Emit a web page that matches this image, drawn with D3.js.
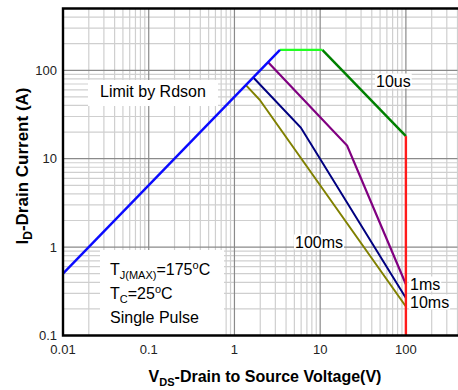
<!DOCTYPE html>
<html>
<head>
<meta charset="utf-8">
<script src="https://cdn.jsdelivr.net/npm/d3@7"></script>
<style>
  html, body { margin: 0; padding: 0; background: #fff; }
  svg { display: block; font-family: Arial, "Liberation Sans", sans-serif; }
</style>
</head>
<body>
<svg id="chart" width="458" height="390"></svg>
<script>
// Safe operating area, log-log
const xTicks = [0.01, 0.1, 1, 10, 100];
const xTickLabels = ["0.01", "0.1", "1", "10", "100"];
const yTicks = [0.1, 1, 10, 100];
const yTickLabels = ["0.1", "1", "10", "100"];

// On-resistance limit (V, A)
const rdsLimit = [[0.01, 0.5], [3.4, 170]];
// 10us pulse: current limit, power limit, voltage limit
const us10Flat = [[3.4, 170], [10.6, 170]];
const us10Slope = [[10.6, 170], [100, 18]];
const vdsLimit = [[100, 18], [100, 0.1]];
// Longer pulses
const ms1 = [[2.47, 123], [20.6, 14.1], [100, 0.38]];
const ms10 = [[1.66, 83], [5.94, 22.5], [100, 0.265]];
const ms100 = [[1.36, 68], [1.97, 46.4], [100, 0.213]];

const svg = d3.select("#chart");
const plotL = 63, plotR = 457.5, plotT = 8.5, plotB = 335.5;

const x = d3.scaleLog().domain([0.01, 400]).range([plotL, plotR]);
const y = d3.scaleLog().domain([0.1, 500]).range([plotB, plotT]);

// grid
const minorX = [];
[0.01, 0.1, 1, 10, 100].forEach(d => {
  for (let k = 2; k <= 9; k++) { const v = d * k; if (v <= 400) minorX.push(v); }
});
const minorY = [];
[0.1, 1, 10, 100].forEach(d => {
  for (let k = 2; k <= 9; k++) { const v = d * k; if (v < 500) minorY.push(v); }
});

const grid = svg.append("g");
grid.selectAll(".mx").data(minorX).join("line")
  .attr("x1", d => x(d)).attr("x2", d => x(d))
  .attr("y1", plotT).attr("y2", plotB)
  .attr("stroke", "#cfcfcf").attr("stroke-width", 1.2);
grid.selectAll(".my").data(minorY).join("line")
  .attr("x1", plotL).attr("x2", plotR)
  .attr("y1", d => y(d)).attr("y2", d => y(d))
  .attr("stroke", "#cfcfcf").attr("stroke-width", 1.2);
grid.selectAll(".Mx").data(xTicks).join("line")
  .attr("x1", d => x(d)).attr("x2", d => x(d))
  .attr("y1", plotT).attr("y2", plotB)
  .attr("stroke", "#8a8a8a").attr("stroke-width", 1.2);
grid.selectAll(".My").data(yTicks).join("line")
  .attr("x1", plotL).attr("x2", plotR)
  .attr("y1", d => y(d)).attr("y2", d => y(d))
  .attr("stroke", "#8a8a8a").attr("stroke-width", 1.2);

// note boxes (drawn over grid, under curves)
const boxes = svg.append("g");
const notes = svg.append("g");

const line = d3.line().x(d => x(d[0])).y(d => y(d[1]));
const curves = [
  { data: ms100, color: "#808000", w: 2 },
  { data: ms10, color: "#000080", w: 2 },
  { data: ms1, color: "#800080", w: 2.2 },
  { data: us10Slope, color: "#008000", w: 2.4 },
  { data: us10Flat, color: "#22ff22", w: 2.4 },
  { data: rdsLimit, color: "#0a0aff", w: 2.4 },
  { data: vdsLimit, color: "#ff1a1a", w: 2.4 }
];

// Limit by Rdson label box
boxes.append("rect").attr("x", 88).attr("y", 80).attr("width", 130).attr("height", 26).attr("fill", "#fff");
notes.append("text").attr("x", 100).attr("y", 96.5).attr("font-size", 16).text("Limit by Rdson");

// Conditions box
boxes.append("rect").attr("x", 100).attr("y", 250).attr("width", 124).attr("height", plotB - 250).attr("fill", "#fff");
const t1 = notes.append("text").attr("x", 110).attr("y", 274.5).attr("font-size", 16);
t1.append("tspan").text("T");
t1.append("tspan").attr("font-size", 11).attr("dy", 4).text("J(MAX)");
t1.append("tspan").attr("dy", -4).text("=175");
t1.append("tspan").attr("font-size", 11).attr("dy", -6).text("o");
t1.append("tspan").attr("dy", 6).text("C");
const t2 = notes.append("text").attr("x", 110).attr("y", 298.5).attr("font-size", 16);
t2.append("tspan").text("T");
t2.append("tspan").attr("font-size", 11).attr("dy", 4).text("C");
t2.append("tspan").attr("dy", -4).text("=25");
t2.append("tspan").attr("font-size", 11).attr("dy", -6).text("o");
t2.append("tspan").attr("dy", 6).text("C");
notes.append("text").attr("x", 110).attr("y", 322.5).attr("font-size", 16).text("Single Pulse");

// curves
svg.append("g").selectAll("path").data(curves).join("path")
  .attr("d", d => line(d.data))
  .attr("fill", "none")
  .attr("stroke", d => d.color)
  .attr("stroke-width", d => d.w)
  .attr("stroke-linejoin", "miter");

// pulse width labels
const pulseLabels = [
  { text: "10us", x: 376, y: 86.5 },
  { text: "100ms", x: 295, y: 247.5 },
  { text: "1ms", x: 410, y: 289.5 },
  { text: "10ms", x: 410, y: 307.5 }
];
const pl = svg.append("g");
pulseLabels.forEach(p => {
  const t = pl.append("text").attr("x", p.x).attr("y", p.y).attr("font-size", 16).text(p.text);
  const b = t.node().getBBox();
  pl.insert("rect", "text").attr("x", b.x - 1).attr("y", b.y + 1).attr("width", b.width + 2).attr("height", b.height - 2).attr("fill", "#fff");
});

// frame (left, top, bottom)
svg.append("path")
  .attr("d", `M${plotR + 2},${plotT} H${plotL} V${plotB} H${plotR + 2}`)
  .attr("fill", "none").attr("stroke", "#000").attr("stroke-width", 2.4);

// tick labels
svg.append("g").selectAll("text").data(yTicks).join("text")
  .attr("x", 57).attr("y", d => y(d) + 4.5)
  .attr("text-anchor", "end").attr("font-size", 13).attr("fill", "#222")
  .text((d, i) => yTickLabels[i]);
svg.append("g").selectAll("text").data(xTicks).join("text")
  .attr("x", d => x(d)).attr("y", 353.5)
  .attr("text-anchor", "middle").attr("font-size", 13).attr("fill", "#222")
  .text((d, i) => xTickLabels[i]);

// axis titles
const xt = svg.append("text").attr("x", 265).attr("y", 381.5).attr("text-anchor", "middle")
  .attr("font-size", 16).attr("font-weight", "bold");
xt.append("tspan").text("V");
xt.append("tspan").attr("font-size", 11).attr("dy", 4).text("DS");
xt.append("tspan").attr("dy", -4).text("-Drain to Source Voltage(V)");

const yt = svg.append("text").attr("transform", "translate(27.5,166) rotate(-90)").attr("text-anchor", "middle")
  .attr("font-size", 17).attr("font-weight", "bold");
yt.append("tspan").text("I");
yt.append("tspan").attr("font-size", 12).attr("dy", 4).text("D");
yt.append("tspan").attr("dy", -4).text("-Drain Current (A)");
</script>
</body>
</html>
